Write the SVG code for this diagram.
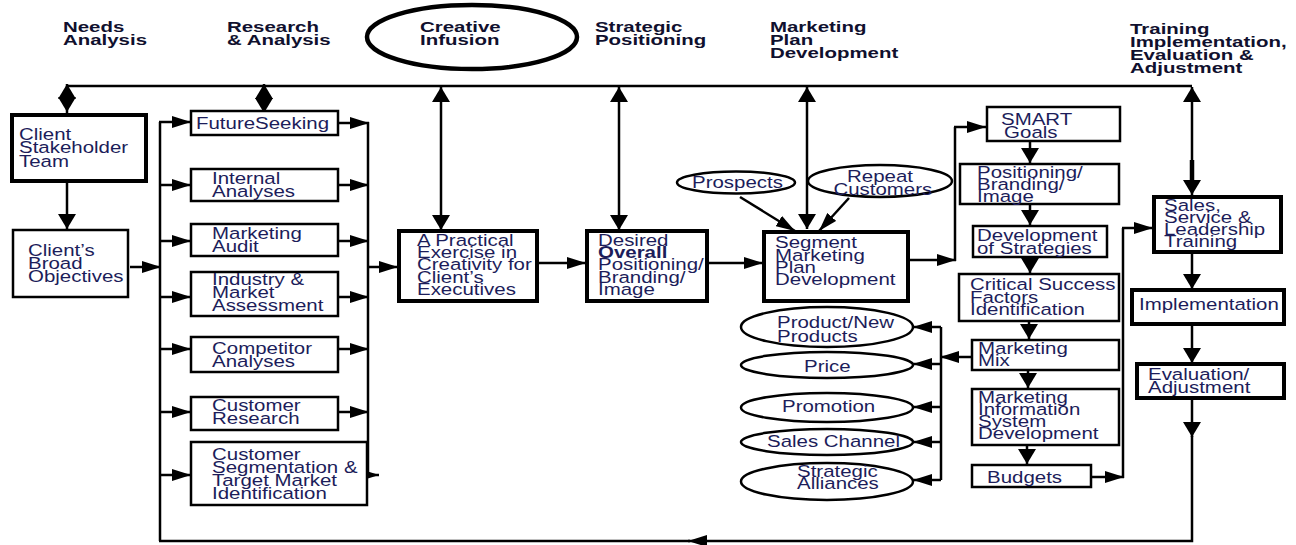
<svg xmlns="http://www.w3.org/2000/svg" width="1296" height="545" viewBox="0 0 1296 545">
<style>
.b{fill:#fff;stroke:#000;stroke-width:2.5}
.bk{fill:#fff;stroke:#000;stroke-width:4}
.e{fill:#fff;stroke:#000;stroke-width:2.5}
.c{fill:none;stroke:#000;stroke-width:2.5}
.h{font-family:"Liberation Sans",Arial,sans-serif;font-weight:bold;font-size:14px;fill:#10102e}
.t{font-family:"Liberation Sans",Arial,sans-serif;font-size:16.5px;fill:#1c1d5a}
</style>
<defs>
<marker id="ah" viewBox="0 0 19 12" refX="19" refY="6" markerWidth="19" markerHeight="12" markerUnits="userSpaceOnUse" orient="auto-start-reverse"><path d="M0,0 L19,6 L0,12 z" fill="#000"/></marker>
<marker id="av" viewBox="0 0 15 18" refX="15" refY="9" markerWidth="15" markerHeight="18" markerUnits="userSpaceOnUse" orient="auto-start-reverse"><path d="M0,0 L15,9 L0,18 z" fill="#000"/></marker>
</defs>
<rect width="1296" height="545" fill="#fff"/>

<g id="headings">
<text class="h" transform="translate(63,32) scale(1.46,1)"><tspan x="0" y="0">Needs</tspan><tspan x="0" y="13">Analysis</tspan></text>
<text class="h" transform="translate(227,32) scale(1.46,1)"><tspan x="0" y="0">Research</tspan><tspan x="0" y="13">&amp; Analysis</tspan></text>
<ellipse cx="472" cy="37" rx="105" ry="32" fill="none" stroke="#000" stroke-width="4.5"/>
<text class="h" transform="translate(420,32) scale(1.46,1)"><tspan x="0" y="0">Creative</tspan><tspan x="0" y="13">Infusion</tspan></text>
<text class="h" transform="translate(595,32) scale(1.46,1)"><tspan x="0" y="0">Strategic</tspan><tspan x="0" y="13">Positioning</tspan></text>
<text class="h" transform="translate(770,32) scale(1.46,1)"><tspan x="0" y="0">Marketing</tspan><tspan x="0" y="13">Plan</tspan><tspan x="0" y="26">Development</tspan></text>
<text class="h" transform="translate(1130,34) scale(1.46,1)"><tspan x="0" y="0">Training</tspan><tspan x="0" y="13">Implementation,</tspan><tspan x="0" y="26">Evaluation &amp;</tspan><tspan x="0" y="39">Adjustment</tspan></text>
</g>

<g id="connectors">
<path class="c" d="M67,86 H1192"/>
<path class="c" d="M67,84 V112" marker-start="url(#av)" marker-end="url(#av)"/>
<path class="c" d="M67,112 V114"/>
<path class="c" d="M264,84 V113" marker-start="url(#av)" marker-end="url(#av)"/>
<path class="c" d="M441,87 V230" marker-start="url(#av)" marker-end="url(#av)"/>
<path class="c" d="M619,87 V230" marker-start="url(#av)" marker-end="url(#av)"/>
<path class="c" d="M807,87 V229" marker-start="url(#av)" marker-end="url(#av)"/>
<path class="c" d="M1192,87 V195" marker-start="url(#av)" marker-end="url(#av)"/>
<path d="M1192,160 V182" stroke="#000" stroke-width="4.5"/>
<path class="c" d="M67,183 V229" marker-end="url(#av)"/>
<path class="c" d="M130,267 H161" marker-end="url(#ah)"/>
<path class="c" d="M160,541 V122"/>
<path class="c" d="M159,122 H191" marker-end="url(#ah)"/>
<path class="c" d="M160,185 H191" marker-end="url(#ah)"/>
<path class="c" d="M160,241 H191" marker-end="url(#ah)"/>
<path class="c" d="M160,297 H191" marker-end="url(#ah)"/>
<path class="c" d="M160,349 H191" marker-end="url(#ah)"/>
<path class="c" d="M160,412 H191" marker-end="url(#ah)"/>
<path class="c" d="M160,475 H191" marker-end="url(#ah)"/>
<path class="c" d="M339,123 H369" marker-end="url(#ah)"/>
<path class="c" d="M339,185 H369" marker-end="url(#ah)"/>
<path class="c" d="M339,241 H369" marker-end="url(#ah)"/>
<path class="c" d="M339,297 H369" marker-end="url(#ah)"/>
<path class="c" d="M339,349 H369" marker-end="url(#ah)"/>
<path class="c" d="M339,412 H369" marker-end="url(#ah)"/>
<path class="c" d="M352,475 H379" marker-end="url(#ah)"/>
<path class="c" d="M368,122 V478"/>
<path class="c" d="M368,267 H398" marker-end="url(#ah)"/>
<path class="c" d="M538,263 H586" marker-end="url(#ah)"/>
<path class="c" d="M708,263 H763" marker-end="url(#ah)"/>
<path class="c" d="M740,197 L795,231" marker-end="url(#ah)"/>
<path class="c" d="M849,198 L819,231" marker-end="url(#ah)"/>
<path class="c" d="M909,260 H956" marker-end="url(#ah)"/>
<path class="c" d="M955,261 V127"/>
<path class="c" d="M954,127 H986" marker-end="url(#ah)"/>
<path class="c" d="M1030,142 V163" marker-end="url(#av)"/>
<path class="c" d="M1030,205 V225" marker-end="url(#av)"/>
<path class="c" d="M1030,258 V273" marker-end="url(#av)"/>
<path class="c" d="M1029,322 V339" marker-end="url(#av)"/>
<path class="c" d="M1028,371 V388" marker-end="url(#av)"/>
<path class="c" d="M1027,446 V464" marker-end="url(#av)"/>
<path class="c" d="M1092,477 H1124" marker-end="url(#ah)"/>
<path class="c" d="M1123,478 V228"/>
<path class="c" d="M1122,228 H1153" marker-end="url(#ah)"/>
<path class="c" d="M971,357 H940" marker-end="url(#ah)"/>
<path class="c" d="M941,327 V480"/>
<path class="c" d="M941,327 H913" marker-end="url(#ah)"/>
<path class="c" d="M941,364 H913" marker-end="url(#ah)"/>
<path class="c" d="M941,407 H913" marker-end="url(#ah)"/>
<path class="c" d="M941,442 H913" marker-end="url(#ah)"/>
<path class="c" d="M941,480 H913" marker-end="url(#ah)"/>
<path class="c" d="M1192,253 V289" marker-end="url(#av)"/>
<path class="c" d="M1192,325 V363" marker-end="url(#av)"/>
<path class="c" d="M1192,399 V437" marker-end="url(#av)"/>
<path class="c" d="M1192,436 V541 H688" marker-end="url(#ah)"/>
<path class="c" d="M690,541 H159"/>
</g>

<g id="client-stakeholder-team"><rect class="bk" x="12" y="115" width="134" height="66" stroke-width="4.5"/>
<text class="t" transform="translate(19,140) scale(1.24,1)"><tspan x="0" y="0">Client</tspan><tspan x="0" y="13.3">Stakeholder</tspan><tspan x="0" y="26.6">Team</tspan></text></g>

<g id="client-broad-objectives"><rect class="b" x="13" y="230" width="115" height="67"/>
<text class="t" transform="translate(28,256) scale(1.24,1)"><tspan x="0" y="0">Client’s</tspan><tspan x="0" y="13">Broad</tspan><tspan x="0" y="26">Objectives</tspan></text></g>

<g id="futureseeking"><rect class="b" x="191" y="111" width="147" height="24"/>
<text class="t" transform="translate(196,129) scale(1.24,1)">FutureSeeking</text></g>

<g id="internal-analyses"><rect class="b" x="191" y="169" width="147" height="32"/>
<text class="t" transform="translate(212,183.5) scale(1.24,1)"><tspan x="0" y="0">Internal</tspan><tspan x="0" y="13">Analyses</tspan></text></g>

<g id="marketing-audit"><rect class="b" x="191" y="224" width="147" height="32"/>
<text class="t" transform="translate(212,238.5) scale(1.24,1)"><tspan x="0" y="0">Marketing</tspan><tspan x="0" y="13">Audit</tspan></text></g>

<g id="industry-market"><rect class="b" x="191" y="272" width="147" height="44"/>
<text class="t" transform="translate(212,285) scale(1.24,1)"><tspan x="0" y="0">Industry &amp;</tspan><tspan x="0" y="13">Market</tspan><tspan x="0" y="26">Assessment</tspan></text></g>

<g id="competitor-analyses"><rect class="b" x="191" y="337" width="147" height="35"/>
<text class="t" transform="translate(212,353.5) scale(1.24,1)"><tspan x="0" y="0">Competitor</tspan><tspan x="0" y="13">Analyses</tspan></text></g>

<g id="customer-research"><rect class="b" x="191" y="397" width="147" height="33"/>
<text class="t" transform="translate(212,411) scale(1.24,1)"><tspan x="0" y="0">Customer</tspan><tspan x="0" y="13">Research</tspan></text></g>

<g id="customer-segmentation"><rect class="b" x="191" y="442" width="176" height="63"/>
<text class="t" transform="translate(212,460) scale(1.24,1)"><tspan x="0" y="0">Customer</tspan><tspan x="0" y="13">Segmentation &amp;</tspan><tspan x="0" y="26">Target Market</tspan><tspan x="0" y="39">Identification</tspan></text></g>

<g id="practical-exercise"><rect class="bk" x="399" y="231" width="138" height="70" stroke-width="3.5"/>
<text class="t" transform="translate(417,245.5) scale(1.24,1)"><tspan x="0" y="0">A Practical</tspan><tspan x="0" y="12.4">Exercise in</tspan><tspan x="0" y="24.8">Creativity for</tspan><tspan x="0" y="37.2">Client’s</tspan><tspan x="0" y="49.6">Executives</tspan></text></g>

<g id="desired-overall"><rect class="bk" x="587" y="231" width="120" height="70" stroke-width="3.5"/>
<text class="t" transform="translate(598,245.5) scale(1.24,1)"><tspan x="0" y="0">Desired</tspan><tspan x="0" y="12.4" font-weight="bold">Overall</tspan><tspan x="0" y="24.8">Positioning/</tspan><tspan x="0" y="37.2">Branding/</tspan><tspan x="0" y="49.6">Image</tspan></text></g>

<g id="segment-marketing"><rect class="bk" x="764" y="232" width="144" height="69" stroke-width="3"/>
<text class="t" transform="translate(775,248) scale(1.24,1)"><tspan x="0" y="0">Segment</tspan><tspan x="0" y="12.5">Marketing</tspan><tspan x="0" y="25">Plan</tspan><tspan x="0" y="37.5">Development</tspan></text></g>

<g id="prospects"><ellipse class="e" cx="736" cy="182.5" rx="59" ry="11"/>
<text class="t" transform="translate(692,187.5) scale(1.24,1)">Prospects</text></g>

<g id="repeat-customers"><ellipse class="e" cx="880" cy="181" rx="72" ry="16"/>
<text class="t" transform="translate(847,182) scale(1.24,1)"><tspan x="0" y="0">Repeat</tspan><tspan x="-11" y="13">Customers</tspan></text></g>

<g id="smart-goals"><rect class="b" x="987" y="107" width="133" height="34"/>
<text class="t" transform="translate(1001,125) scale(1.24,1)"><tspan x="0" y="0">SMART</tspan><tspan x="2.5" y="12.5">Goals</tspan></text></g>

<g id="positioning-branding"><rect class="b" x="960" y="164" width="159" height="40"/>
<text class="t" transform="translate(977,178) scale(1.24,1)"><tspan x="0" y="0">Positioning/</tspan><tspan x="0" y="12">Branding/</tspan><tspan x="0" y="24">Image</tspan></text></g>

<g id="development-strategies"><rect class="b" x="973" y="226" width="134" height="31"/>
<text class="t" transform="translate(977,241) scale(1.24,1)"><tspan x="0" y="0">Development</tspan><tspan x="0" y="12.5">of Strategies</tspan></text></g>

<g id="critical-success"><rect class="b" x="959" y="274" width="160" height="47"/>
<text class="t" transform="translate(970,290) scale(1.24,1)"><tspan x="0" y="0">Critical Success</tspan><tspan x="0" y="12.5">Factors</tspan><tspan x="0" y="25">Identification</tspan></text></g>

<g id="marketing-mix"><rect class="b" x="972" y="340" width="147" height="30"/>
<text class="t" transform="translate(978,353.5) scale(1.24,1)"><tspan x="0" y="0">Marketing</tspan><tspan x="0" y="12.5">Mix</tspan></text></g>

<g id="marketing-information-system"><rect class="b" x="972" y="389" width="147" height="56"/>
<text class="t" transform="translate(978,403) scale(1.24,1)"><tspan x="0" y="0">Marketing</tspan><tspan x="0" y="12">Information</tspan><tspan x="0" y="24">System</tspan><tspan x="0" y="36.5">Development</tspan></text></g>

<g id="budgets"><rect class="b" x="972" y="465" width="119" height="22"/>
<text class="t" transform="translate(987,482.5) scale(1.24,1)">Budgets</text></g>

<g id="product-new-products"><ellipse class="e" cx="827" cy="327" rx="86" ry="20"/>
<text class="t" transform="translate(777,328) scale(1.24,1)"><tspan x="0" y="0">Product/New</tspan><tspan x="0" y="13.5">Products</tspan></text></g>

<g id="price"><ellipse class="e" cx="827" cy="365" rx="86" ry="13"/>
<text class="t" transform="translate(804,371.5) scale(1.24,1)">Price</text></g>

<g id="promotion"><ellipse class="e" cx="827" cy="407.5" rx="86" ry="14.5"/>
<text class="t" transform="translate(782,411.5) scale(1.24,1)">Promotion</text></g>

<g id="sales-channel"><ellipse class="e" cx="827" cy="442" rx="86" ry="13"/>
<text class="t" transform="translate(767,447.3) scale(1.24,1)">Sales Channel</text></g>

<g id="strategic-alliances"><ellipse class="e" cx="827" cy="481.5" rx="86" ry="18.5"/>
<text class="t" transform="translate(797,476.5) scale(1.24,1)"><tspan x="0" y="0">Strategic</tspan><tspan x="0" y="12.5">Alliances</tspan></text></g>

<g id="sales-service-training"><rect class="bk" x="1154" y="197" width="127" height="55"/>
<text class="t" transform="translate(1164,211) scale(1.24,1)"><tspan x="0" y="0">Sales,</tspan><tspan x="0" y="12">Service &amp;</tspan><tspan x="0" y="24">Leadership</tspan><tspan x="0" y="36">Training</tspan></text></g>

<g id="implementation"><rect class="bk" x="1132" y="290" width="152" height="34"/>
<text class="t" transform="translate(1139,310) scale(1.24,1)">Implementation</text></g>

<g id="evaluation-adjustment"><rect class="bk" x="1137" y="364" width="147" height="34"/>
<text class="t" transform="translate(1148,380) scale(1.24,1)"><tspan x="0" y="0">Evaluation/</tspan><tspan x="0" y="12.5">Adjustment</tspan></text></g>
</svg>
